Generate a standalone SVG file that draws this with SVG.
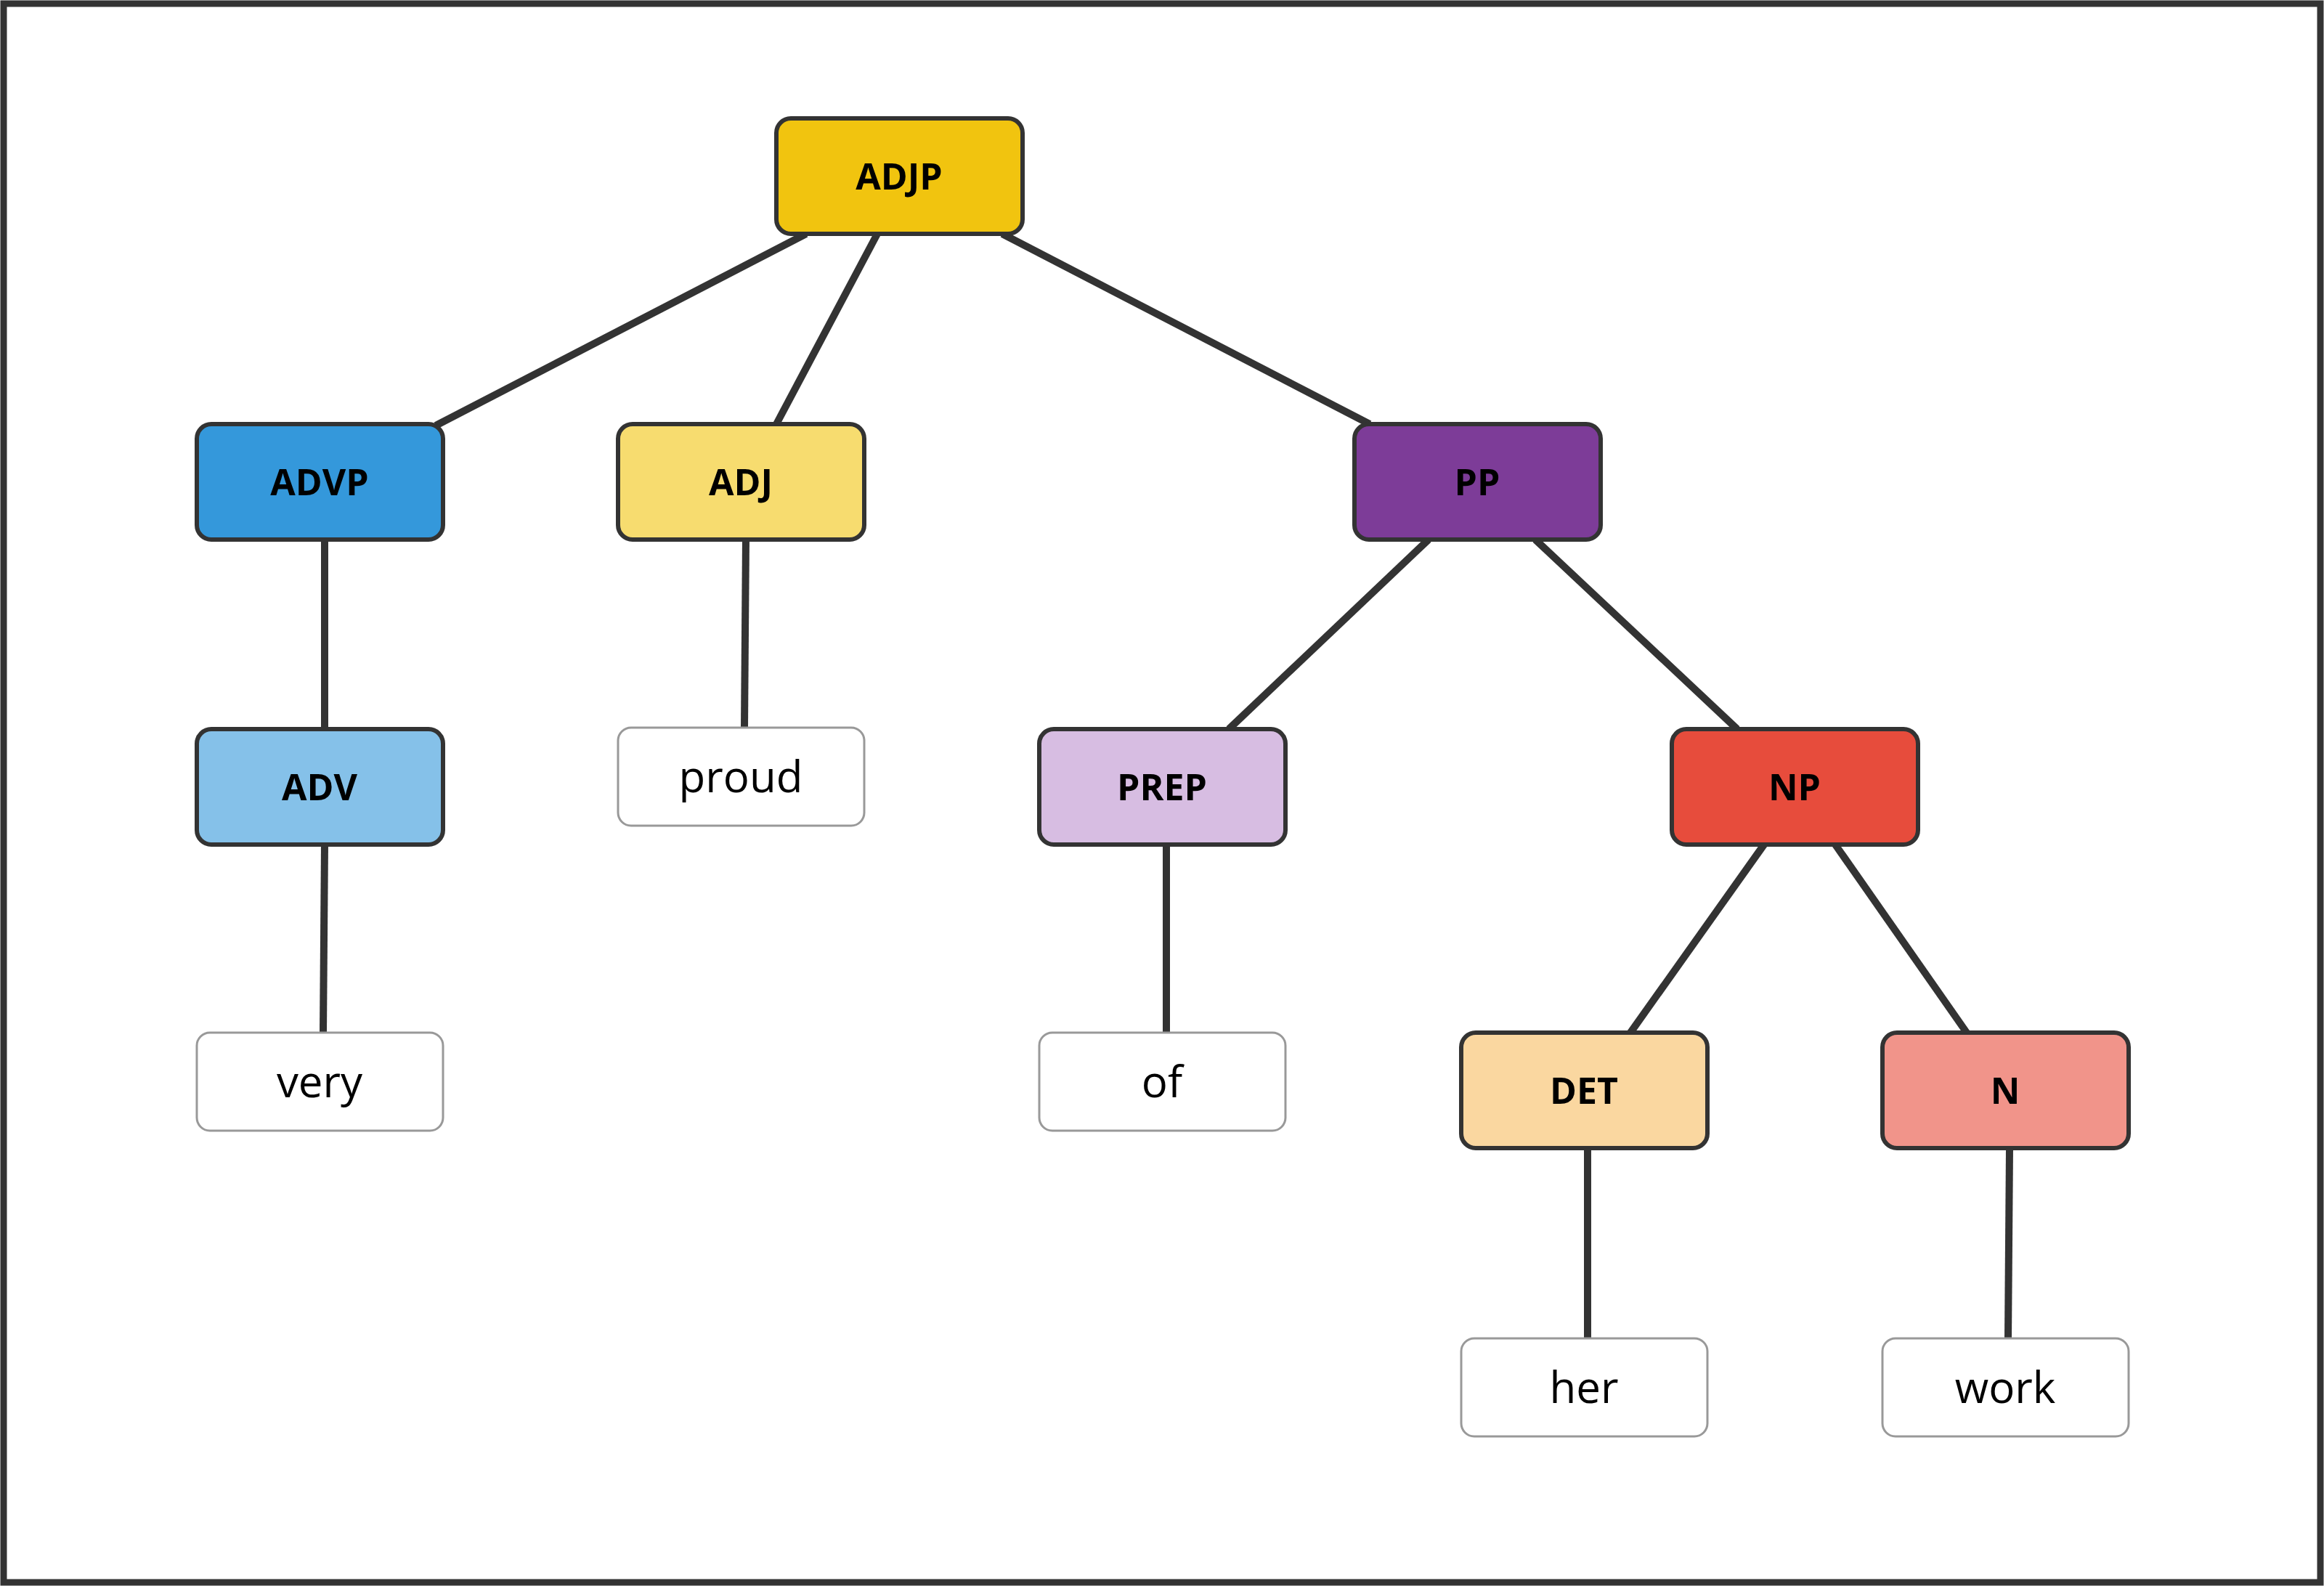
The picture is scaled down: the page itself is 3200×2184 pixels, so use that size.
<svg xmlns="http://www.w3.org/2000/svg" width="3200" height="2184" viewBox="0 0 3200 2184">
<style>
.n{stroke:#333;stroke-width:6}
.l{fill:#fff;stroke:#999;stroke-width:3}
.t{font-family:"Open Sans",sans-serif;font-weight:bold;font-size:50px;fill:#000;text-anchor:middle;dominant-baseline:central}
.w{font-family:"Open Sans",sans-serif;font-size:60px;fill:#000;text-anchor:middle;dominant-baseline:central}
.e line{stroke:#333;stroke-width:10}
</style>
<rect x="0" y="0" width="3200" height="2184" fill="#fff"/>
<rect x="5" y="5" width="3190" height="2174" fill="none" stroke="#333" stroke-width="9"/>
<g class="e">
<line x1="1110" y1="322" x2="600" y2="586"/>
<line x1="1208" y1="322" x2="1069" y2="584"/>
<line x1="1380" y1="322" x2="1886" y2="584"/>
<line x1="447" y1="743" x2="447" y2="1004"/>
<line x1="1027" y1="743" x2="1025" y2="1002"/>
<line x1="1967" y1="743" x2="1692" y2="1004"/>
<line x1="2114" y1="743" x2="2392" y2="1004"/>
<line x1="447" y1="1163" x2="445" y2="1422"/>
<line x1="1606" y1="1163" x2="1606" y2="1422"/>
<line x1="2429" y1="1163" x2="2245" y2="1422"/>
<line x1="2527" y1="1163" x2="2708" y2="1422"/>
<line x1="2186" y1="1582" x2="2186" y2="1843"/>
<line x1="2767" y1="1582" x2="2765" y2="1843"/>
</g>
<g id="ADJP"><rect class="n" x="1069" y="163" width="339" height="159" rx="20" fill="#F1C40F"/><text class="t" x="1238" y="242">ADJP</text></g>
<g id="ADVP"><rect class="n" x="271" y="584" width="339" height="159" rx="20" fill="#3498DB"/><text class="t" x="440" y="663">ADVP</text></g>
<g id="ADJ"><rect class="n" x="851" y="584" width="339" height="159" rx="20" fill="#F7DC6F"/><text class="t" x="1020" y="663">ADJ</text></g>
<g id="PP"><rect class="n" x="1865" y="584" width="339" height="159" rx="20" fill="#7D3C98"/><text class="t" x="2034" y="663">PP</text></g>
<g id="ADV"><rect class="n" x="271" y="1004" width="339" height="159" rx="20" fill="#85C1E9"/><text class="t" x="440" y="1083">ADV</text></g>
<g id="proud"><rect class="l" x="851" y="1002" width="339" height="135" rx="18"/><text class="w" x="1020" y="1068">proud</text></g>
<g id="PREP"><rect class="n" x="1431" y="1004" width="339" height="159" rx="20" fill="#D7BDE2"/><text class="t" x="1600" y="1083">PREP</text></g>
<g id="NP"><rect class="n" x="2302" y="1004" width="339" height="159" rx="20" fill="#E74C3C"/><text class="t" x="2471" y="1083">NP</text></g>
<g id="very"><rect class="l" x="271" y="1422" width="339" height="135" rx="18"/><text class="w" x="440" y="1488">very</text></g>
<g id="of"><rect class="l" x="1431" y="1422" width="339" height="135" rx="18"/><text class="w" x="1600" y="1488">of</text></g>
<g id="DET"><rect class="n" x="2012" y="1422" width="339" height="159" rx="20" fill="#FAD7A0"/><text class="t" x="2181" y="1501">DET</text></g>
<g id="N"><rect class="n" x="2592" y="1422" width="339" height="159" rx="20" fill="#F1948A"/><text class="t" x="2761" y="1501">N</text></g>
<g id="her"><rect class="l" x="2012" y="1843" width="339" height="135" rx="18"/><text class="w" x="2181" y="1909">her</text></g>
<g id="work"><rect class="l" x="2592" y="1843" width="339" height="135" rx="18"/><text class="w" x="2761" y="1909">work</text></g>
</svg>
